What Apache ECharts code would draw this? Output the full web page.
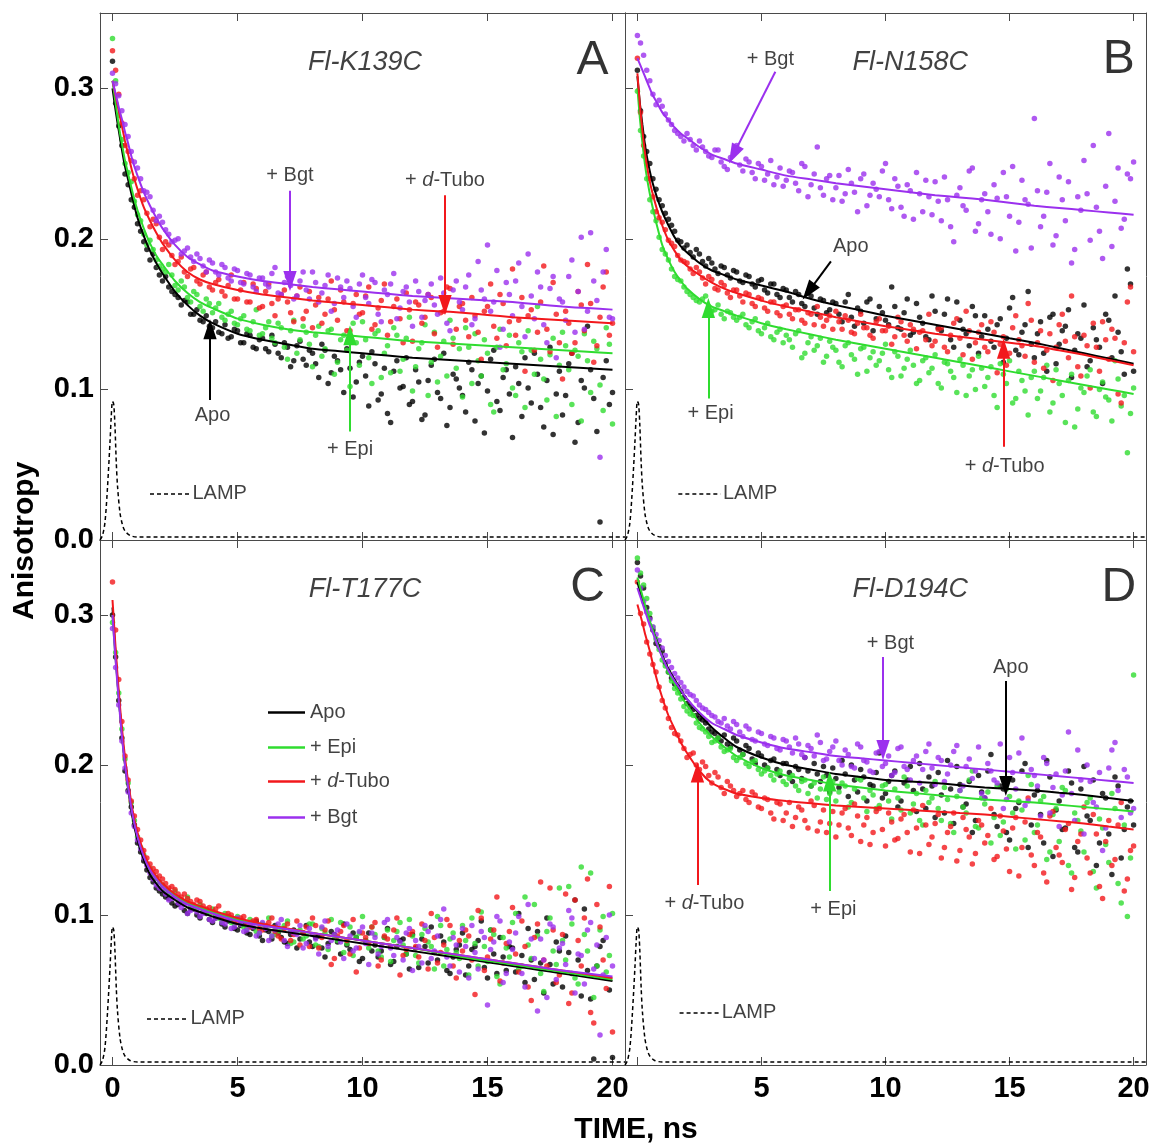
<!DOCTYPE html>
<html>
<head>
<meta charset="utf-8">
<script src="https://cdn.jsdelivr.net/npm/echarts@6.0.0/dist/echarts.min.js"></script>
<style>html,body{margin:0;padding:0;background:#fff}#c{width:1158px;height:1145px}</style>
</head>
<body>
<div id="c"></div>
<script>
// ---------------- DATA ----------------
const T = [0,0.25,0.5,0.75,1,1.25,1.5,1.75,2,2.25,2.5,2.75,3,3.25,3.5,3.75,4,4.25,4.5,4.75,5,5.25,5.5,5.75,6,6.25,6.5,6.75,7,7.25,7.5,7.75,8,8.25,8.5,8.75,9,9.25,9.5,9.75,10,10.25,10.5,10.75,11,11.25,11.5,11.75,12,12.25,12.5,12.75,13,13.25,13.5,13.75,14,14.25,14.5,14.75,15,15.25,15.5,15.75,16,16.25,16.5,16.75,17,17.25,17.5,17.75,18,18.25,18.5,18.75,19,19.25,19.5,19.75,20];
const T2 = [0.125,0.375,0.625,0.875,1.125,1.375,1.625,1.875,2.125,2.375,2.625,2.875,3.125,3.375,3.625,3.875,4.125,4.375,4.625,4.875,5.125,5.375,5.625,5.875,6.125,6.375,6.625,6.875,7.125,7.375,7.625,7.875,8.125,8.375,8.625,8.875,9.125,9.375,9.625,9.875,10.125,10.375,10.625,10.875,11.125,11.375,11.625,11.875,12.125,12.375,12.625,12.875,13.125,13.375,13.625,13.875,14.125,14.375,14.625,14.875,15.125,15.375,15.625,15.875,16.125,16.375,16.625,16.875,17.125,17.375,17.625,17.875,18.125,18.375,18.625,18.875,19.125,19.375,19.625,19.875];
const FT = [0,0.1,0.2,0.3,0.4,0.5,0.6,0.8,1,1.25,1.5,1.75,2,2.5,3,3.5,4,5,6,7,8,9,10,11,12,13,14,15,16,17,18,19,20];
const xTicks = [0,5,10,15,20];
const yTicks = [0,0.1,0.2,0.3];
const lampT = [-0.5,-0.4,-0.3,-0.2,-0.1,-0.05,0,0.05,0.1,0.15,0.2,0.3,0.4,0.5,0.7,1.0,20.5];
const lampV = [0.0,0.003,0.012,0.035,0.065,0.082,0.092,0.090,0.075,0.052,0.036,0.018,0.010,0.006,0.003,0.002,0.002];

// Panel A  (Fl-K139C)
const apoA = [0.318,0.275,0.243,0.226,0.210,0.198,0.186,0.181, 0.172,0.168,0.163,0.156,0.158,0.150,0.146,0.149, 0.141,0.138,0.143,0.135,0.139,0.131,0.136,0.127, 0.134,0.125,0.130,0.121,0.128,0.119,0.132,0.116, 0.124,0.108,0.126,0.111,0.119,0.098,0.114,0.105, 0.122,0.089,0.117,0.097,0.084,0.112,0.101,0.121, 0.092,0.105,0.083,0.116,0.098,0.124,0.088,0.107, 0.096,0.118,0.079,0.109,0.099,0.126,0.086,0.113, 0.068,0.104,0.121,0.091,0.110,0.075,0.128,0.097, 0.083,0.117,0.065,0.106,0.142,0.094,0.012,0.119, 0.098];
const apoA2 = [0.290,0.262,0.236,0.221,0.205,0.193,0.190,0.176, 0.175,0.165,0.161,0.159,0.150,0.153,0.145,0.142, 0.145,0.137,0.134,0.140,0.131,0.137,0.128,0.133, 0.127,0.136,0.124,0.131,0.115,0.129,0.120,0.126, 0.117,0.130,0.104,0.122,0.113,0.127,0.095,0.118, 0.109,0.125,0.093,0.114,0.078,0.119,0.102,0.090, 0.113,0.080,0.106,0.120,0.094,0.076,0.110,0.101, 0.085,0.113,0.104,0.071,0.120,0.092,0.108,0.097, 0.115,0.082,0.101,0.124,0.088,0.106,0.070,0.112, 0.096,0.124,0.078,0.101,0.113,0.072,0.108,0.090];
const epiA = [0.333,0.282,0.250,0.238,0.216,0.203,0.199,0.186, 0.180,0.183,0.169,0.172,0.161,0.165,0.155,0.160, 0.151,0.157,0.146,0.152,0.143,0.149,0.139,0.153, 0.137,0.145,0.131,0.141,0.120,0.146,0.133,0.138, 0.115,0.142,0.127,0.140,0.118,0.136,0.102,0.131, 0.145,0.121,0.137,0.108,0.129,0.141,0.112,0.134, 0.099,0.127,0.143,0.118,0.105,0.132,0.146,0.114, 0.095,0.128,0.137,0.109,0.124,0.085,0.140,0.117, 0.101,0.131,0.088,0.126,0.155,0.107,0.123,0.082, 0.138,0.113,0.126,0.079,0.119,0.132,0.103,0.141, 0.077];
const epiA2 = [0.305,0.266,0.244,0.225,0.212,0.196,0.193,0.182, 0.178,0.176,0.166,0.168,0.158,0.163,0.152,0.157, 0.154,0.148,0.150,0.144,0.147,0.140,0.145,0.136, 0.141,0.134,0.144,0.128,0.139,0.124,0.142,0.130, 0.136,0.122,0.139,0.110,0.133,0.126,0.144,0.116, 0.133,0.104,0.139,0.124,0.111,0.136,0.120,0.148, 0.115,0.131,0.096,0.138,0.122,0.109,0.134,0.127, 0.141,0.104,0.119,0.133,0.090,0.128,0.113,0.136, 0.096,0.125,0.139,0.110,0.120,0.093,0.134,0.116, 0.129,0.090,0.122,0.137,0.098,0.127,0.086,0.130];
const tuboA = [0.325,0.296,0.262,0.252,0.229,0.226,0.208,0.210, 0.193,0.196,0.183,0.188,0.175,0.181,0.170,0.178, 0.166,0.173,0.162,0.176,0.160,0.171,0.158,0.167, 0.155,0.170,0.149,0.163,0.158,0.145,0.168,0.152, 0.141,0.161,0.150,0.172,0.146,0.158,0.139,0.163, 0.151,0.168,0.143,0.159,0.136,0.155,0.147,0.164, 0.132,0.156,0.148,0.161,0.128,0.152,0.167,0.140, 0.157,0.135,0.149,0.120,0.155,0.142,0.163,0.129, 0.180,0.146,0.112,0.153,0.138,0.182,0.125,0.150, 0.107,0.144,0.131,0.156,0.183,0.118,0.148,0.178, 0.144];
const tuboA2 = [0.312,0.277,0.258,0.240,0.232,0.217,0.213,0.201, 0.198,0.189,0.185,0.178,0.180,0.172,0.176,0.168, 0.171,0.165,0.169,0.160,0.166,0.158,0.170,0.154, 0.165,0.157,0.160,0.166,0.151,0.162,0.147,0.165, 0.156,0.144,0.160,0.153,0.166,0.139,0.157,0.150, 0.162,0.140,0.154,0.170,0.145,0.160,0.131,0.153, 0.158,0.144,0.163,0.137,0.151,0.168,0.130,0.155, 0.146,0.161,0.138,0.152,0.170,0.134,0.157,0.145, 0.136,0.161,0.149,0.126,0.158,0.140,0.171,0.131, 0.152,0.124,0.165,0.139,0.157,0.129,0.168,0.136];
const bgtA = [0.310,0.295,0.276,0.258,0.247,0.232,0.228,0.212, 0.211,0.203,0.199,0.190,0.194,0.185,0.187,0.178, 0.184,0.176,0.181,0.172,0.179,0.170,0.176,0.165, 0.174,0.168,0.181,0.163,0.175,0.160,0.172,0.166, 0.178,0.158,0.169,0.152,0.174,0.161,0.167,0.148, 0.176,0.157,0.171,0.145,0.163,0.177,0.154,0.168, 0.142,0.165,0.159,0.170,0.150,0.164,0.139,0.172, 0.153,0.176,0.147,0.166,0.196,0.158,0.128,0.171, 0.149,0.184,0.135,0.162,0.178,0.143,0.167,0.121, 0.158,0.175,0.138,0.201,0.152,0.172,0.055,0.193, 0.147];
const bgtA2 = [0.303,0.285,0.268,0.251,0.240,0.231,0.219,0.215, 0.206,0.198,0.200,0.192,0.188,0.190,0.182,0.186, 0.178,0.183,0.174,0.180,0.171,0.177,0.168,0.174, 0.170,0.177,0.164,0.171,0.169,0.162,0.178,0.160, 0.171,0.164,0.176,0.157,0.168,0.172,0.155,0.170, 0.161,0.173,0.150,0.166,0.170,0.147,0.165,0.158, 0.172,0.148,0.163,0.156,0.174,0.144,0.166,0.158, 0.168,0.143,0.185,0.160,0.152,0.179,0.140,0.163, 0.172,0.155,0.190,0.147,0.168,0.131,0.175,0.160, 0.146,0.186,0.165,0.140,0.204,0.159,0.178,0.148];
const apoAFit  = [0.300,0.288,0.277,0.267,0.257,0.248,0.241,0.227,0.214,0.202,0.192,0.184,0.177,0.165,0.156,0.149,0.144,0.137,0.133,0.130,0.127,0.1255,0.124,0.1225,0.121,0.120,0.119,0.118,0.117,0.116,0.115,0.114,0.113];
const epiAFit  = [0.305,0.293,0.281,0.270,0.261,0.252,0.245,0.231,0.219,0.207,0.197,0.189,0.183,0.172,0.164,0.158,0.154,0.147,0.143,0.140,0.138,0.1365,0.135,0.1335,0.132,0.131,0.130,0.129,0.128,0.127,0.126,0.125,0.124];
const tuboAFit = [0.305,0.297,0.289,0.281,0.273,0.265,0.258,0.244,0.233,0.221,0.212,0.204,0.197,0.186,0.178,0.173,0.170,0.166,0.163,0.161,0.159,0.1575,0.156,0.1545,0.153,0.152,0.151,0.1495,0.148,0.147,0.146,0.145,0.144];
const bgtAFit  = [0.305,0.298,0.291,0.284,0.278,0.271,0.265,0.252,0.242,0.231,0.222,0.214,0.207,0.196,0.188,0.183,0.179,0.175,0.172,0.170,0.168,0.1665,0.165,0.1635,0.162,0.161,0.160,0.159,0.158,0.1565,0.155,0.154,0.153];

// Panel B  (Fl-N158C)
const apoB = [0.312,0.268,0.250,0.233,0.222,0.213,0.205,0.198, 0.196,0.188,0.190,0.182,0.184,0.177,0.181,0.174, 0.178,0.171,0.175,0.168,0.173,0.164,0.170,0.161, 0.166,0.158,0.163,0.155,0.162,0.150,0.159,0.153, 0.157,0.145,0.163,0.142,0.152,0.158,0.139,0.155, 0.146,0.168,0.141,0.151,0.136,0.157,0.144,0.133, 0.152,0.139,0.160,0.128,0.146,0.137,0.155,0.124, 0.149,0.132,0.143,0.118,0.154,0.126,0.138,0.165, 0.121,0.145,0.112,0.150,0.130,0.142,0.108,0.137, 0.156,0.119,0.133,0.104,0.146,0.162,0.125,0.180, 0.112];
const apoB2 = [0.285,0.258,0.240,0.226,0.217,0.209,0.199,0.194, 0.191,0.193,0.185,0.187,0.180,0.182,0.176,0.179, 0.172,0.176,0.170,0.172,0.166,0.170,0.163,0.167, 0.161,0.165,0.157,0.164,0.154,0.160,0.151,0.158, 0.150,0.158,0.148,0.154,0.144,0.160,0.147,0.151, 0.143,0.155,0.140,0.160,0.138,0.148,0.135,0.162, 0.141,0.150,0.133,0.158,0.140,0.129,0.149,0.135, 0.140,0.128,0.147,0.134,0.161,0.123,0.143,0.130, 0.137,0.124,0.148,0.117,0.139,0.153,0.126,0.134, 0.115,0.141,0.128,0.150,0.121,0.138,0.110,0.170];
const epiB = [0.298,0.255,0.226,0.212,0.193,0.186,0.175,0.172, 0.165,0.161,0.158,0.162,0.152,0.156,0.147,0.151, 0.146,0.150,0.141,0.147,0.137,0.144,0.133,0.140, 0.136,0.128,0.139,0.124,0.135,0.129,0.118,0.132, 0.126,0.115,0.131,0.120,0.127,0.112,0.125,0.119, 0.130,0.108,0.122,0.114,0.126,0.104,0.119,0.111, 0.123,0.101,0.117,0.108,0.120,0.096,0.113,0.122, 0.102,0.115,0.088,0.110,0.119,0.094,0.106,0.083, 0.112,0.099,0.116,0.091,0.104,0.078,0.110,0.087, 0.098,0.113,0.082,0.105,0.093,0.119,0.089,0.058, 0.101];
const epiB2 = [0.272,0.240,0.218,0.201,0.190,0.180,0.173,0.168, 0.163,0.159,0.160,0.155,0.153,0.150,0.152,0.148, 0.148,0.143,0.145,0.139,0.141,0.135,0.138,0.131, 0.133,0.137,0.121,0.131,0.126,0.134,0.122,0.128, 0.118,0.129,0.123,0.110,0.128,0.121,0.116,0.124, 0.113,0.125,0.109,0.120,0.116,0.106,0.121,0.114, 0.104,0.118,0.112,0.098,0.116,0.109,0.100,0.114, 0.108,0.096,0.117,0.104,0.091,0.112,0.099,0.108, 0.094,0.108,0.085,0.113,0.096,0.106,0.075,0.101, 0.109,0.085,0.100,0.095,0.079,0.107,0.096,0.084];
const tuboB = [0.320,0.262,0.240,0.218,0.211,0.199,0.195,0.186, 0.184,0.177,0.178,0.170,0.173,0.166,0.169,0.161, 0.166,0.158,0.163,0.155,0.160,0.152,0.158,0.149, 0.156,0.147,0.153,0.144,0.150,0.155,0.142,0.149, 0.152,0.140,0.146,0.137,0.150,0.141,0.134,0.147, 0.139,0.130,0.148,0.136,0.143,0.127,0.139,0.150, 0.132,0.141,0.125,0.144,0.134,0.152,0.120,0.138, 0.128,0.145,0.111,0.135,0.124,0.149,0.129,0.157, 0.118,0.139,0.126,0.106,0.143,0.132,0.162,0.115, 0.136,0.101,0.128,0.145,0.120,0.134,0.091,0.158, 0.125];
const tuboB2 = [0.284,0.250,0.228,0.214,0.206,0.197,0.189,0.185, 0.180,0.181,0.174,0.175,0.167,0.171,0.164,0.166, 0.162,0.164,0.157,0.161,0.154,0.158,0.151,0.155, 0.150,0.153,0.146,0.151,0.143,0.148,0.146,0.140, 0.145,0.149,0.138,0.144,0.141,0.136,0.145,0.139, 0.142,0.135,0.145,0.132,0.140,0.138,0.133,0.129, 0.140,0.128,0.136,0.147,0.123,0.139,0.131,0.143, 0.125,0.138,0.130,0.116,0.141,0.133,0.122,0.146, 0.131,0.114,0.137,0.128,0.150,0.121,0.135,0.109, 0.129,0.144,0.112,0.133,0.140,0.097,0.131,0.168];
const bgtB = [0.335,0.322,0.305,0.289,0.288,0.279,0.272,0.268, 0.270,0.262,0.265,0.258,0.254,0.259,0.248,0.254, 0.262,0.245,0.251,0.240,0.248,0.243,0.236,0.247, 0.239,0.244,0.232,0.248,0.236,0.261,0.229,0.242, 0.234,0.225,0.246,0.231,0.240,0.222,0.237,0.228, 0.250,0.220,0.235,0.215,0.232,0.244,0.218,0.228, 0.238,0.212,0.226,0.198,0.234,0.219,0.247,0.210, 0.230,0.203,0.227,0.244,0.215,0.192,0.239,0.223, 0.280,0.208,0.231,0.196,0.241,0.212,0.184,0.228, 0.252,0.199,0.221,0.187,0.270,0.225,0.207,0.243, 0.251];
const bgtB2 = [0.330,0.312,0.296,0.292,0.283,0.276,0.270,0.265, 0.266,0.259,0.261,0.255,0.259,0.251,0.246,0.257, 0.249,0.253,0.244,0.250,0.239,0.252,0.241,0.235, 0.245,0.237,0.250,0.228,0.243,0.234,0.240,0.226, 0.242,0.230,0.237,0.218,0.243,0.229,0.233,0.245, 0.226,0.240,0.221,0.236,0.213,0.230,0.239,0.216, 0.225,0.241,0.208,0.229,0.222,0.245,0.205,0.226, 0.218,0.236,0.200,0.228,0.248,0.211,0.226,0.194, 0.232,0.215,0.250,0.202,0.226,0.238,0.193,0.219, 0.230,0.262,0.205,0.235,0.195,0.247,0.213,0.240];
const apoBFit  = [0.308,0.290,0.276,0.263,0.253,0.245,0.238,0.227,0.218,0.209,0.201,0.195,0.191,0.184,0.179,0.176,0.173,0.169,0.165,0.160,0.156,0.1525,0.149,0.146,0.143,0.140,0.137,0.134,0.131,0.1275,0.124,0.1205,0.117];
const epiBFit  = [0.300,0.280,0.264,0.250,0.239,0.230,0.222,0.208,0.196,0.186,0.178,0.172,0.167,0.160,0.155,0.152,0.149,0.144,0.140,0.1365,0.133,0.130,0.127,0.124,0.121,0.118,0.115,0.112,0.109,0.106,0.103,0.100,0.097];
const tuboBFit = [0.310,0.289,0.272,0.258,0.247,0.238,0.231,0.219,0.209,0.199,0.192,0.186,0.182,0.176,0.171,0.167,0.164,0.159,0.155,0.1515,0.148,0.145,0.142,0.1395,0.137,0.135,0.133,0.131,0.129,0.126,0.123,0.1195,0.116];
const bgtBFit  = [0.320,0.316,0.312,0.308,0.304,0.300,0.296,0.290,0.284,0.279,0.274,0.270,0.267,0.261,0.256,0.253,0.250,0.246,0.242,0.2395,0.237,0.235,0.233,0.231,0.229,0.2275,0.226,0.224,0.222,0.2205,0.219,0.2175,0.216];

// Panel C  (Fl-T177C)
const apoC = [0.300,0.243,0.196,0.172,0.148,0.136,0.125,0.118, 0.114,0.111,0.106,0.109,0.101,0.104,0.098,0.101, 0.095,0.099,0.092,0.097,0.090,0.094,0.087,0.096, 0.083,0.089,0.093,0.085,0.081,0.090,0.084,0.093, 0.079,0.086,0.072,0.089,0.082,0.094,0.077,0.085, 0.071,0.088,0.080,0.076,0.091,0.069,0.083,0.074, 0.087,0.065,0.079,0.092,0.070,0.082,0.061,0.077, 0.088,0.066,0.079,0.096,0.058,0.074,0.085,0.063, 0.078,0.101,0.055,0.070,0.089,0.048,0.067,0.082, 0.052,0.075,0.110,0.046,0.063,0.004,0.079,0.058, 0.005];
const apoC2 = [0.272,0.218,0.183,0.160,0.142,0.130,0.122,0.116, 0.112,0.108,0.107,0.103,0.104,0.100,0.102,0.097, 0.098,0.094,0.096,0.091,0.093,0.088,0.091,0.086, 0.090,0.084,0.088,0.082,0.087,0.078,0.088,0.082, 0.085,0.078,0.081,0.087,0.074,0.080,0.088,0.069, 0.083,0.076,0.072,0.085,0.067,0.079,0.084,0.064, 0.078,0.084,0.068,0.075,0.086,0.063,0.072,0.080, 0.060,0.077,0.083,0.065,0.090,0.061,0.072,0.079, 0.062,0.073,0.091,0.057,0.068,0.098,0.054,0.076, 0.086,0.061,0.070,0.104,0.044,0.066,0.083,0.050];
const epiC = [0.295,0.248,0.204,0.175,0.152,0.140,0.131,0.125, 0.120,0.115,0.116,0.110,0.112,0.105,0.107,0.102, 0.104,0.098,0.101,0.095,0.099,0.092,0.097,0.089, 0.094,0.098,0.087,0.091,0.096,0.082,0.090,0.086, 0.094,0.079,0.088,0.097,0.083,0.075,0.092,0.085, 0.099,0.078,0.087,0.072,0.090,0.083,0.095,0.074, 0.086,0.068,0.091,0.079,0.099,0.066,0.084,0.075, 0.093,0.060,0.081,0.102,0.069,0.087,0.054,0.078, 0.095,0.064,0.112,0.071,0.086,0.049,0.098,0.067, 0.083,0.119,0.058,0.132,0.076,0.045,0.090,0.062, 0.101];
const epiC2 = [0.275,0.224,0.188,0.163,0.145,0.134,0.127,0.122, 0.117,0.113,0.111,0.108,0.106,0.104,0.103,0.101, 0.100,0.096,0.099,0.094,0.096,0.091,0.095,0.088, 0.092,0.086,0.089,0.093,0.081,0.088,0.084,0.094, 0.080,0.091,0.077,0.086,0.095,0.081,0.073,0.088, 0.083,0.092,0.076,0.085,0.069,0.089,0.080,0.097, 0.073,0.087,0.082,0.064,0.093,0.077,0.088,0.071, 0.083,0.098,0.066,0.079,0.090,0.059,0.085,0.072, 0.101,0.066,0.080,0.107,0.061,0.089,0.076,0.118, 0.070,0.094,0.054,0.087,0.128,0.066,0.099,0.073];
const tuboC = [0.322,0.257,0.206,0.176,0.157,0.143,0.134,0.129, 0.124,0.118,0.117,0.112,0.111,0.107,0.109,0.104, 0.102,0.106,0.097,0.100,0.095,0.099,0.092,0.097, 0.090,0.095,0.089,0.084,0.094,0.087,0.080,0.092, 0.098,0.078,0.090,0.067,0.086,0.093,0.074,0.062, 0.088,0.081,0.095,0.070,0.084,0.090,0.060,0.077, 0.089,0.072,0.083,0.101,0.068,0.080,0.093,0.058, 0.076,0.086,0.047,0.098,0.072,0.090,0.056,0.081, 0.105,0.062,0.079,0.043,0.094,0.070,0.118,0.055, 0.087,0.041,0.110,0.066,0.124,0.028,0.092,0.051, 0.022];
const tuboC2 = [0.290,0.229,0.190,0.166,0.150,0.138,0.131,0.126, 0.121,0.119,0.114,0.114,0.109,0.110,0.106,0.105, 0.104,0.099,0.101,0.096,0.098,0.094,0.096,0.091, 0.093,0.098,0.086,0.091,0.083,0.096,0.088,0.079, 0.093,0.085,0.096,0.071,0.089,0.083,0.097,0.078, 0.085,0.092,0.066,0.086,0.079,0.098,0.073,0.087, 0.079,0.094,0.064,0.085,0.075,0.097,0.066,0.083, 0.090,0.070,0.103,0.063,0.084,0.112,0.068,0.089, 0.074,0.096,0.052,0.085,0.122,0.066,0.090,0.060, 0.114,0.048,0.083,0.098,0.035,0.107,0.070,0.119];
const bgtC = [0.291,0.240,0.198,0.168,0.150,0.138,0.128,0.120, 0.117,0.110,0.112,0.105,0.101,0.106,0.099,0.103, 0.096,0.100,0.094,0.091,0.098,0.089,0.093,0.086, 0.095,0.083,0.090,0.097,0.079,0.088,0.093,0.081, 0.087,0.074,0.096,0.083,0.090,0.071,0.086,0.078, 0.092,0.067,0.085,0.079,0.097,0.073,0.082,0.088, 0.063,0.079,0.093,0.071,0.086,0.104,0.066,0.080, 0.091,0.058,0.075,0.089,0.040,0.082,0.096,0.061, 0.077,0.099,0.052,0.084,0.036,0.070,0.094,0.057, 0.081,0.103,0.048,0.073,0.090,0.064,0.020,0.085, 0.066];
const bgtC2 = [0.265,0.216,0.182,0.159,0.144,0.133,0.124,0.118, 0.114,0.111,0.108,0.107,0.103,0.102,0.101,0.097, 0.098,0.095,0.097,0.092,0.094,0.090,0.092,0.088, 0.091,0.086,0.094,0.083,0.089,0.087,0.078,0.091, 0.084,0.092,0.079,0.087,0.082,0.094,0.076,0.089, 0.081,0.088,0.074,0.095,0.078,0.085,0.070,0.091, 0.083,0.068,0.089,0.076,0.097,0.072,0.085,0.062, 0.079,0.093,0.064,0.085,0.077,0.099,0.055,0.082, 0.088,0.061,0.107,0.071,0.084,0.045,0.092,0.078, 0.067,0.098,0.074,0.054,0.095,0.080,0.060,0.100];
const apoCFit  = [0.305,0.279,0.256,0.235,0.216,0.200,0.187,0.165,0.150,0.137,0.127,0.121,0.116,0.110,0.105,0.102,0.099,0.094,0.091,0.0885,0.086,0.0835,0.081,0.0785,0.076,0.0735,0.071,0.0685,0.066,0.0635,0.061,0.0585,0.056];
const epiCFit  = [0.300,0.276,0.255,0.235,0.217,0.202,0.189,0.168,0.153,0.140,0.130,0.124,0.119,0.113,0.108,0.105,0.102,0.097,0.093,0.0905,0.088,0.0855,0.083,0.0805,0.078,0.075,0.072,0.0695,0.067,0.0645,0.062,0.0595,0.057];
const tuboCFit = [0.310,0.284,0.260,0.239,0.221,0.205,0.192,0.170,0.155,0.142,0.132,0.126,0.121,0.114,0.109,0.106,0.103,0.098,0.094,0.091,0.088,0.0855,0.083,0.0805,0.078,0.0755,0.073,0.0705,0.068,0.0655,0.063,0.0605,0.058];
const bgtCFit  = [0.300,0.275,0.253,0.233,0.215,0.200,0.188,0.167,0.152,0.139,0.130,0.124,0.119,0.112,0.107,0.104,0.101,0.096,0.093,0.0905,0.088,0.0855,0.083,0.0805,0.078,0.0755,0.073,0.0705,0.068,0.0655,0.063,0.061,0.059];

// Panel D  (Fl-D194C)
const apoD = [0.335,0.318,0.298,0.281,0.276,0.262,0.254,0.249, 0.241,0.237,0.231,0.228,0.222,0.218,0.220,0.212, 0.216,0.207,0.211,0.201,0.206,0.198,0.204,0.193, 0.201,0.189,0.197,0.205,0.186,0.194,0.199,0.182, 0.191,0.203,0.179,0.190,0.197,0.176,0.186,0.208, 0.181,0.193,0.172,0.188,0.199,0.169,0.184,0.192, 0.165,0.180,0.203,0.161,0.187,0.174,0.155,0.193, 0.178,0.207,0.159,0.184,0.150,0.171,0.196,0.145, 0.180,0.167,0.203,0.139,0.176,0.158,0.188,0.142, 0.199,0.163,0.133,0.181,0.154,0.192,0.138,0.172, 0.160];
const apoD2 = [0.326,0.305,0.290,0.279,0.268,0.258,0.252,0.245, 0.239,0.233,0.230,0.224,0.221,0.216,0.214,0.218, 0.210,0.213,0.204,0.208,0.200,0.203,0.197,0.201, 0.195,0.199,0.191,0.196,0.201,0.189,0.193,0.198, 0.185,0.194,0.200,0.182,0.192,0.187,0.195,0.178, 0.189,0.196,0.176,0.190,0.183,0.201,0.171,0.186, 0.195,0.168,0.184,0.199,0.172,0.189,0.163,0.182, 0.196,0.167,0.186,0.155,0.190,0.175,0.201,0.160, 0.183,0.148,0.192,0.170,0.157,0.196,0.145,0.184, 0.166,0.190,0.148,0.178,0.127,0.186,0.157,0.176];
const epiD = [0.338,0.320,0.301,0.284,0.270,0.262,0.251,0.244, 0.236,0.233,0.225,0.222,0.215,0.218,0.209,0.211, 0.203,0.207,0.199,0.203,0.194,0.198,0.190,0.196, 0.187,0.193,0.183,0.190,0.186,0.178,0.192,0.181, 0.176,0.188,0.172,0.184,0.190,0.169,0.180,0.173, 0.187,0.164,0.178,0.192,0.168,0.181,0.160,0.175, 0.189,0.163,0.177,0.155,0.183,0.168,0.196,0.158, 0.174,0.148,0.186,0.162,0.179,0.144,0.170,0.193, 0.155,0.176,0.137,0.167,0.149,0.183,0.128,0.163, 0.142,0.178,0.118,0.158,0.135,0.171,0.108,0.099, 0.260];
const epiD2 = [0.328,0.311,0.292,0.277,0.266,0.256,0.248,0.239, 0.234,0.228,0.224,0.219,0.216,0.212,0.210,0.205, 0.205,0.201,0.202,0.197,0.196,0.193,0.194,0.189, 0.191,0.186,0.189,0.181,0.188,0.184,0.177,0.189, 0.182,0.186,0.175,0.191,0.178,0.183,0.171,0.186, 0.176,0.184,0.170,0.186,0.174,0.163,0.183,0.178, 0.171,0.185,0.161,0.179,0.172,0.190,0.159,0.178, 0.182,0.165,0.153,0.184,0.168,0.176,0.150,0.187, 0.160,0.179,0.142,0.171,0.185,0.133,0.168,0.156, 0.175,0.129,0.164,0.147,0.181,0.121,0.160,0.138];
const tuboD = [0.322,0.294,0.274,0.262,0.243,0.231,0.221,0.216, 0.205,0.208,0.197,0.199,0.188,0.192,0.181,0.186, 0.179,0.183,0.175,0.180,0.171,0.177,0.164,0.174, 0.168,0.159,0.172,0.163,0.176,0.156,0.170,0.161, 0.152,0.168,0.158,0.174,0.149,0.165,0.155,0.171, 0.146,0.162,0.151,0.167,0.142,0.158,0.173,0.147, 0.161,0.138,0.155,0.168,0.143,0.157,0.134,0.163, 0.148,0.171,0.139,0.156,0.129,0.165,0.145,0.178, 0.133,0.152,0.122,0.169,0.140,0.157,0.117,0.149, 0.172,0.128,0.154,0.111,0.163,0.137,0.175,0.124, 0.146];
const tuboD2 = [0.301,0.282,0.267,0.252,0.238,0.225,0.220,0.211, 0.207,0.200,0.202,0.193,0.195,0.185,0.189,0.183, 0.181,0.177,0.182,0.172,0.178,0.168,0.175,0.163, 0.175,0.165,0.170,0.158,0.173,0.162,0.155,0.169, 0.160,0.171,0.153,0.166,0.160,0.147,0.169,0.157, 0.168,0.150,0.164,0.155,0.170,0.141,0.160,0.152, 0.167,0.145,0.159,0.136,0.165,0.152,0.141,0.160, 0.153,0.137,0.166,0.144,0.158,0.126,0.162,0.140, 0.155,0.128,0.166,0.145,0.135,0.161,0.125,0.154, 0.138,0.167,0.119,0.149,0.133,0.160,0.116,0.143];
const bgtD = [0.330,0.309,0.297,0.287,0.278,0.269,0.261,0.255, 0.249,0.246,0.240,0.237,0.233,0.229,0.231,0.224, 0.227,0.219,0.224,0.216,0.221,0.213,0.218,0.210, 0.216,0.208,0.214,0.205,0.211,0.220,0.203,0.209, 0.216,0.200,0.207,0.198,0.212,0.202,0.195,0.209, 0.201,0.193,0.211,0.199,0.190,0.206,0.197,0.214, 0.187,0.203,0.194,0.209,0.183,0.199,0.191,0.212, 0.178,0.196,0.188,0.171,0.205,0.184,0.218,0.176, 0.193,0.166,0.201,0.185,0.159,0.196,0.181,0.210, 0.154,0.189,0.172,0.143,0.198,0.215,0.165,0.192, 0.171];
const bgtD2 = [0.318,0.302,0.292,0.283,0.273,0.265,0.258,0.252, 0.247,0.243,0.238,0.235,0.232,0.228,0.226,0.229, 0.222,0.226,0.217,0.222,0.214,0.219,0.211,0.217, 0.212,0.218,0.207,0.213,0.206,0.215,0.204,0.212, 0.203,0.210,0.199,0.214,0.203,0.196,0.208,0.199, 0.206,0.195,0.212,0.197,0.203,0.188,0.209,0.198, 0.205,0.189,0.200,0.213,0.186,0.204,0.196,0.181, 0.201,0.190,0.214,0.177,0.195,0.208,0.173,0.197, 0.186,0.205,0.168,0.194,0.180,0.222,0.163,0.190, 0.200,0.175,0.195,0.158,0.210,0.183,0.197,0.168];
const apoDFit  = [0.322,0.316,0.310,0.305,0.300,0.295,0.291,0.282,0.273,0.264,0.257,0.250,0.244,0.234,0.225,0.218,0.212,0.205,0.200,0.197,0.194,0.192,0.190,0.189,0.188,0.1865,0.185,0.184,0.183,0.1815,0.180,0.178,0.176];
const epiDFit  = [0.325,0.319,0.313,0.307,0.301,0.296,0.291,0.281,0.272,0.262,0.254,0.246,0.240,0.228,0.219,0.212,0.206,0.198,0.193,0.190,0.187,0.185,0.183,0.1815,0.180,0.1785,0.177,0.176,0.175,0.1735,0.172,0.1705,0.169];
const tuboDFit = [0.307,0.301,0.295,0.288,0.282,0.276,0.269,0.256,0.245,0.233,0.224,0.215,0.208,0.196,0.188,0.184,0.181,0.178,0.176,0.1745,0.173,0.172,0.171,0.170,0.169,0.168,0.167,0.1655,0.164,0.1625,0.161,0.159,0.157];
const bgtDFit  = [0.318,0.313,0.308,0.303,0.298,0.293,0.289,0.280,0.272,0.263,0.256,0.250,0.244,0.235,0.228,0.224,0.220,0.215,0.211,0.2085,0.206,0.2045,0.203,0.2015,0.200,0.1985,0.197,0.1955,0.194,0.1925,0.191,0.1895,0.188];

const seriesNames = ['Apo','+ Epi','+ d-Tubo','+ Bgt'];
const panelTitles = ['Fl-K139C','Fl-N158C','Fl-T177C','Fl-D194C'];
const panelLetters = ['A','B','C','D'];

// ---------------- LAYOUT / STYLE ----------------
const FONT = "'Liberation Sans', Arial, Helvetica, sans-serif";
const COL = ['#000000', '#2fdc2f', '#f2181c', '#9b30ee'];
const AXC = '#4a4a4a';
const grids = [
  {left:100, top:13,  width:525, height:527},
  {left:625, top:13,  width:521, height:527},
  {left:100, top:540, width:525, height:525},
  {left:625, top:540, width:521, height:525}
];
const scatterSets = [
  [[apoA,apoA2],[epiA,epiA2],[tuboA,tuboA2],[bgtA,bgtA2]],
  [[apoB,apoB2],[epiB,epiB2],[tuboB,tuboB2],[bgtB,bgtB2]],
  [[apoC,apoC2],[epiC,epiC2],[tuboC,tuboC2],[bgtC,bgtC2]],
  [[apoD,apoD2],[epiD,epiD2],[tuboD,tuboD2],[bgtD,bgtD2]]
];
const fitSets = [[apoAFit,epiAFit,tuboAFit,bgtAFit],[apoBFit,epiBFit,tuboBFit,bgtBFit],[apoCFit,epiCFit,tuboCFit,bgtCFit],[apoDFit,epiDFit,tuboDFit,bgtDFit]];

// annotation placement (data coordinates of each panel)
const titlePos  = [[10.1,0.317],[11.0,0.317],[10.1,0.317],[11.0,0.317]];
const letterPos = [[19.2,0.318],[19.4,0.319],[19.0,0.318],[19.4,0.318]];
const lampLegend = [[1.5,3.1,0.031],[1.65,3.35,0.031],[1.38,3.02,0.031],[1.7,3.3,0.035]];
const arrows = [
  {p:0, s:3, txt:[7.1,0.242],  from:[7.1,0.232],  to:[7.1,0.172]},
  {p:0, s:2, txt:[13.3,0.239], from:[13.3,0.229], to:[13.3,0.156]},
  {p:0, s:0, txt:[4.0,0.083],  from:[3.9,0.093],  to:[3.9,0.140]},
  {p:0, s:1, txt:[9.5,0.060],  from:[9.5,0.072],  to:[9.5,0.136]},
  {p:1, s:3, txt:[5.36,0.319], from:[5.56,0.311], to:[3.87,0.256]},
  {p:1, s:0, txt:[8.6,0.195],  from:[7.8,0.185],  to:[6.9,0.165]},
  {p:1, s:1, txt:[2.95,0.084], from:[2.86,0.094], to:[2.86,0.154]},
  {p:1, s:2, txt:[14.8,0.049], from:[14.76,0.062],to:[14.76,0.127]},
  {p:3, s:3, txt:[10.2,0.281], from:[9.9,0.272],  to:[9.9,0.210]},
  {p:3, s:0, txt:[15.05,0.265],from:[14.85,0.256],to:[14.85,0.186]},
  {p:3, s:2, txt:[2.7,0.108],  from:[2.42,0.120], to:[2.42,0.195]},
  {p:3, s:1, txt:[7.9,0.104],  from:[7.75,0.116], to:[7.75,0.189]}
];
const legendC = {x1:6.22, x2:7.7, xt:7.9, ys:[0.235,0.212,0.189,0.165]};

// ---------------- BUILD ----------------
const pair = (xs, ys) => xs.map((x,i)=>[x, ys[i]]);
const ARROW = 'path://M6,0 L12,18 L0,18 Z';
function labelText(name){ return name.indexOf('d-Tubo')>=0 ? '+ {i|d}-Tubo' : name; }
const richI = {i:{fontStyle:'italic', fontFamily:FONT, fontSize:20, color:'#111'}};

const xAxis = [], yAxis = [], series = [];
grids.forEach((g,p)=>{
  const base = {gridIndex:p, type:'value', min:-0.5, max:20.5, splitLine:{show:false},
    axisLine:{show:true, onZero:false, lineStyle:{color:AXC, width:1}},
    axisTick:{show:true, inside:true, length:8, customValues:xTicks, lineStyle:{color:AXC}}};
  xAxis.push(Object.assign({}, base, {position:'bottom',
    axisLabel:{show:p>=2, customValues: p===3 ? [5,10,15,20] : xTicks, margin:9,
      fontFamily:FONT, fontSize:29, fontWeight:'bold', color:'#000'}}));
  xAxis.push(Object.assign({}, base, {position:'top', axisLabel:{show:false}}));
  yAxis.push({gridIndex:p, type:'value', min:0, max:0.35, position:'left', splitLine:{show:false},
    axisLine:{show:true, onZero:false, lineStyle:{color:AXC, width:1}},
    axisTick:{show:true, inside:true, length:8, customValues:yTicks, lineStyle:{color:AXC}},
    axisLabel:{show:(p===0||p===2), customValues:yTicks, margin:6, formatter:v=>v.toFixed(1),
      fontFamily:FONT, fontSize:29, fontWeight:'bold', color:'#000'}});
  yAxis.push({gridIndex:p, type:'value', min:0, max:0.35, position:'right', splitLine:{show:false},
    axisLine:{show:true, onZero:false, lineStyle:{color:AXC, width:1}},
    axisTick:{show:false}, axisLabel:{show:false}});

  const xi = p*2, yi = p*2;
  scatterSets[p].forEach((sets,s)=>{
    series.push({type:'scatter', name:seriesNames[s], xAxisIndex:xi, yAxisIndex:yi,
      data:pair(T,sets[0]).concat(pair(T2,sets[1])),
      symbol:'circle', symbolSize:5.5, itemStyle:{color:COL[s]}, silent:true, z:2, clip:true});
  });
  fitSets[p].forEach((arr,s)=>{
    series.push({type:'line', name:seriesNames[s]+' fit', xAxisIndex:xi, yAxisIndex:yi, data:pair(FT,arr),
      showSymbol:false, smooth:0.2, lineStyle:{color:COL[s], width:2}, silent:true, z:4});
  });
  series.push({type:'line', name:'LAMP', xAxisIndex:xi, yAxisIndex:yi, data:pair(lampT,lampV),
    showSymbol:false, smooth:0.3, lineStyle:{color:'#000', width:1.5, type:[4,3]}, silent:true, z:3});

  const texts = [];
  const lines = [];
  texts.push({value:titlePos[p], label:{formatter:panelTitles[p], fontStyle:'italic', fontSize:27, color:'#111'}});
  texts.push({value:letterPos[p], label:{formatter:panelLetters[p], fontSize:48, color:'#000'}});
  const ll = lampLegend[p];
  lines.push([{coord:[ll[0],ll[2]], symbol:'none', lineStyle:{color:'#000', width:1.5, type:[4,3]}},{coord:[ll[1],ll[2]], symbol:'none'}]);
  texts.push({value:[ll[1]+0.1, ll[2]], label:{formatter:'LAMP', align:'left', fontSize:20, color:'#111'}});
  arrows.filter(a=>a.p===p).forEach(a=>{
    texts.push({value:a.txt, label:{formatter:labelText(seriesNames[a.s]), fontSize:20, color:'#111', rich:richI}});
    lines.push([{coord:a.from, symbol:'none', lineStyle:{color:COL[a.s], width:2, type:'solid'}},
                {coord:a.to, symbol:ARROW, symbolSize:20, symbolKeepAspect:true}]);
  });
  if (p===2){
    legendC.ys.forEach((y,s)=>{
      lines.push([{coord:[legendC.x1,y], symbol:'none', lineStyle:{color:COL[s], width:2.5, type:'solid'}},{coord:[legendC.x2,y], symbol:'none'}]);
      texts.push({value:[legendC.xt,y], label:{formatter:labelText(seriesNames[s]), align:'left', fontSize:20, color:'#111', rich:richI}});
    });
  }
  series.push({type:'scatter', name:'annot'+p, xAxisIndex:xi, yAxisIndex:yi, data:texts,
    symbol:'rect', symbolSize:1, itemStyle:{color:'rgba(0,0,0,0)'}, silent:true, z:6,
    label:{show:true, position:'inside', align:'center', verticalAlign:'middle', fontFamily:FONT},
    markLine:{silent:true, animation:false, symbol:['none','none'], label:{show:false}, emphasis:{disabled:true}, data:lines}});
});

const chart = echarts.init(document.getElementById('c'), null, {renderer:'canvas'});
chart.setOption({
  animation:false,
  backgroundColor:'#ffffff',
  grid: grids.map(g=>Object.assign({containLabel:false}, g)),
  xAxis, yAxis, series,
  graphic:[
    {type:'text', rotation:Math.PI/2, x:10, y:620, style:{text:'Anisotropy', font:"bold 30px "+FONT, fill:'#000'}, silent:true},
    {type:'text', style:{text:'TIME, ns', x:636, y:1130, align:'center', verticalAlign:'middle', font:"bold 30px "+FONT, fill:'#000'}, silent:true}
  ]
});
</script>
</body>
</html>
